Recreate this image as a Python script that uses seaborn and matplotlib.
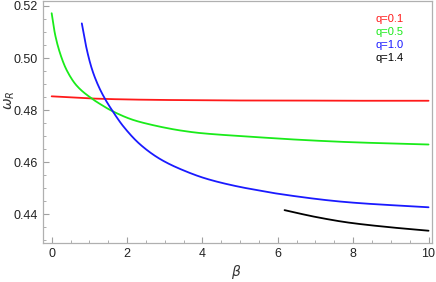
import numpy as np
import pandas as pd
import seaborn as sns
import matplotlib.pyplot as plt
from matplotlib.ticker import MultipleLocator

# valores: beta vs omega_R para cada q
beta_q01 = [0.0, 0.5, 1.0, 2.0, 3.0, 4.0, 5.0, 6.0, 8.0, 10.0]
omega_q01 = [0.4853, 0.4849, 0.4845, 0.4841, 0.4839, 0.4838, 0.4837, 0.4837, 0.4836, 0.4836]

beta_q05 = [0.0, 0.09, 0.23, 0.40, 0.67, 1.07, 1.29, 1.60, 2.17, 2.61, 3.06, 3.41, 3.94, 5.27, 6.59, 7.92, 10.0]
omega_q05 = [0.5172, 0.5091, 0.5015, 0.4953, 0.4893, 0.4844, 0.4823, 0.4797, 0.4762, 0.4745, 0.4731, 0.4722,
             0.4712, 0.4698, 0.4686, 0.4677, 0.4668]

beta_q10 = [0.80, 0.93, 1.07, 1.24, 1.42, 1.60, 1.90, 2.35, 2.88, 3.41, 4.12, 5.0, 5.49, 5.96, 7.89, 10.0]
omega_q10 = [0.5133, 0.5034, 0.4957, 0.4893, 0.4842, 0.4800, 0.4738, 0.4668, 0.4612, 0.4574, 0.4536, 0.4505,
             0.4492, 0.4480, 0.4446, 0.4427]

beta_q14 = [6.18, 7.0, 7.89, 9.0, 10.0]
omega_q14 = [0.4416, 0.4390, 0.4368, 0.4350, 0.4337]

etiquetas = ['q=0.1', 'q=0.5', 'q=1.0', 'q=1.4']
colores = ['#ff1a1a', '#1aeb1a', '#1a1aff', '#000000']

series = [(beta_q01, omega_q01), (beta_q05, omega_q05), (beta_q10, omega_q10), (beta_q14, omega_q14)]
datos = pd.concat([pd.DataFrame({'beta': b, 'omega': w, 'q': et})
                   for (b, w), et in zip(series, etiquetas)], ignore_index=True)


def pchip(x, y, xs):
    # interpolacion cubica monotona (Fritsch-Carlson) para trazar curvas suaves
    x = np.asarray(x, float); y = np.asarray(y, float)
    h = np.diff(x); m = np.diff(y) / h
    d = np.zeros_like(y)
    for i in range(1, len(x) - 1):
        if m[i - 1] * m[i] > 0:
            w1 = 2 * h[i] + h[i - 1]; w2 = h[i] + 2 * h[i - 1]
            d[i] = (w1 + w2) / (w1 / m[i - 1] + w2 / m[i])
    d[0] = m[0]; d[-1] = m[-1]
    idx = np.clip(np.searchsorted(x, xs) - 1, 0, len(x) - 2)
    t = (xs - x[idx]) / h[idx]
    h00 = 2 * t**3 - 3 * t**2 + 1; h10 = t**3 - 2 * t**2 + t
    h01 = -2 * t**3 + 3 * t**2; h11 = t**3 - t**2
    return h00 * y[idx] + h10 * h[idx] * d[idx] + h01 * y[idx + 1] + h11 * h[idx] * d[idx + 1]


sns.set_style('white')
plt.rcParams['font.family'] = ['Liberation Sans', 'DejaVu Sans']
plt.rcParams['mathtext.fontset'] = 'dejavusans'

fig = plt.figure(figsize=(4.36, 2.82), dpi=100)
ax = fig.add_axes([43 / 436, 1 - 242.7 / 282, 389.3 / 436, 241.7 / 282])

for et, col in zip(etiquetas, colores):
    d = datos[datos['q'] == et]
    xs = np.linspace(d['beta'].min(), d['beta'].max(), 400)
    ys = pchip(d['beta'].values, d['omega'].values, xs)
    sns.lineplot(x=xs, y=ys, color=col, linewidth=1.3, ax=ax, legend=False)

ax.set_xlim(-0.23, 10.10)
ax.set_ylim(0.4291, 0.5219)
ax.xaxis.set_major_locator(MultipleLocator(2))
ax.xaxis.set_minor_locator(MultipleLocator(0.5))
ax.yaxis.set_major_locator(MultipleLocator(0.02))
ax.yaxis.set_minor_locator(MultipleLocator(0.005))
ax.yaxis.set_major_formatter(plt.FuncFormatter(lambda v, p: f'{v:.2f}'))

for s in ax.spines.values():
    s.set_color('#b0b0b0')
    s.set_linewidth(0.9)
ax.tick_params(which='both', direction='in', color='#a0a0a0', labelsize=9,
               labelcolor='#222222', top=False, right=False, bottom=True, left=True)
ax.tick_params(which='major', length=4, width=0.8)
ax.tick_params(which='minor', length=2, width=0.6)
ax.set_xlabel('')
ax.set_ylabel('')

fig.text(236 / 436, 1 - 272 / 282, r'$\beta$', fontsize=10, color='#333333', ha='center', va='center')
fig.text(10 / 436, 1 - 100 / 282, r'$\omega_R$', fontsize=10, color='#333333', ha='center', va='center', rotation=90)

for i, (et, col) in enumerate(zip(etiquetas, colores)):
    fig.text(375 / 436, 1 - (19 + 13.1 * i) / 282, et, color=col, fontsize=8, va='center', ha='left')

fig.savefig('out.png', dpi=100)
